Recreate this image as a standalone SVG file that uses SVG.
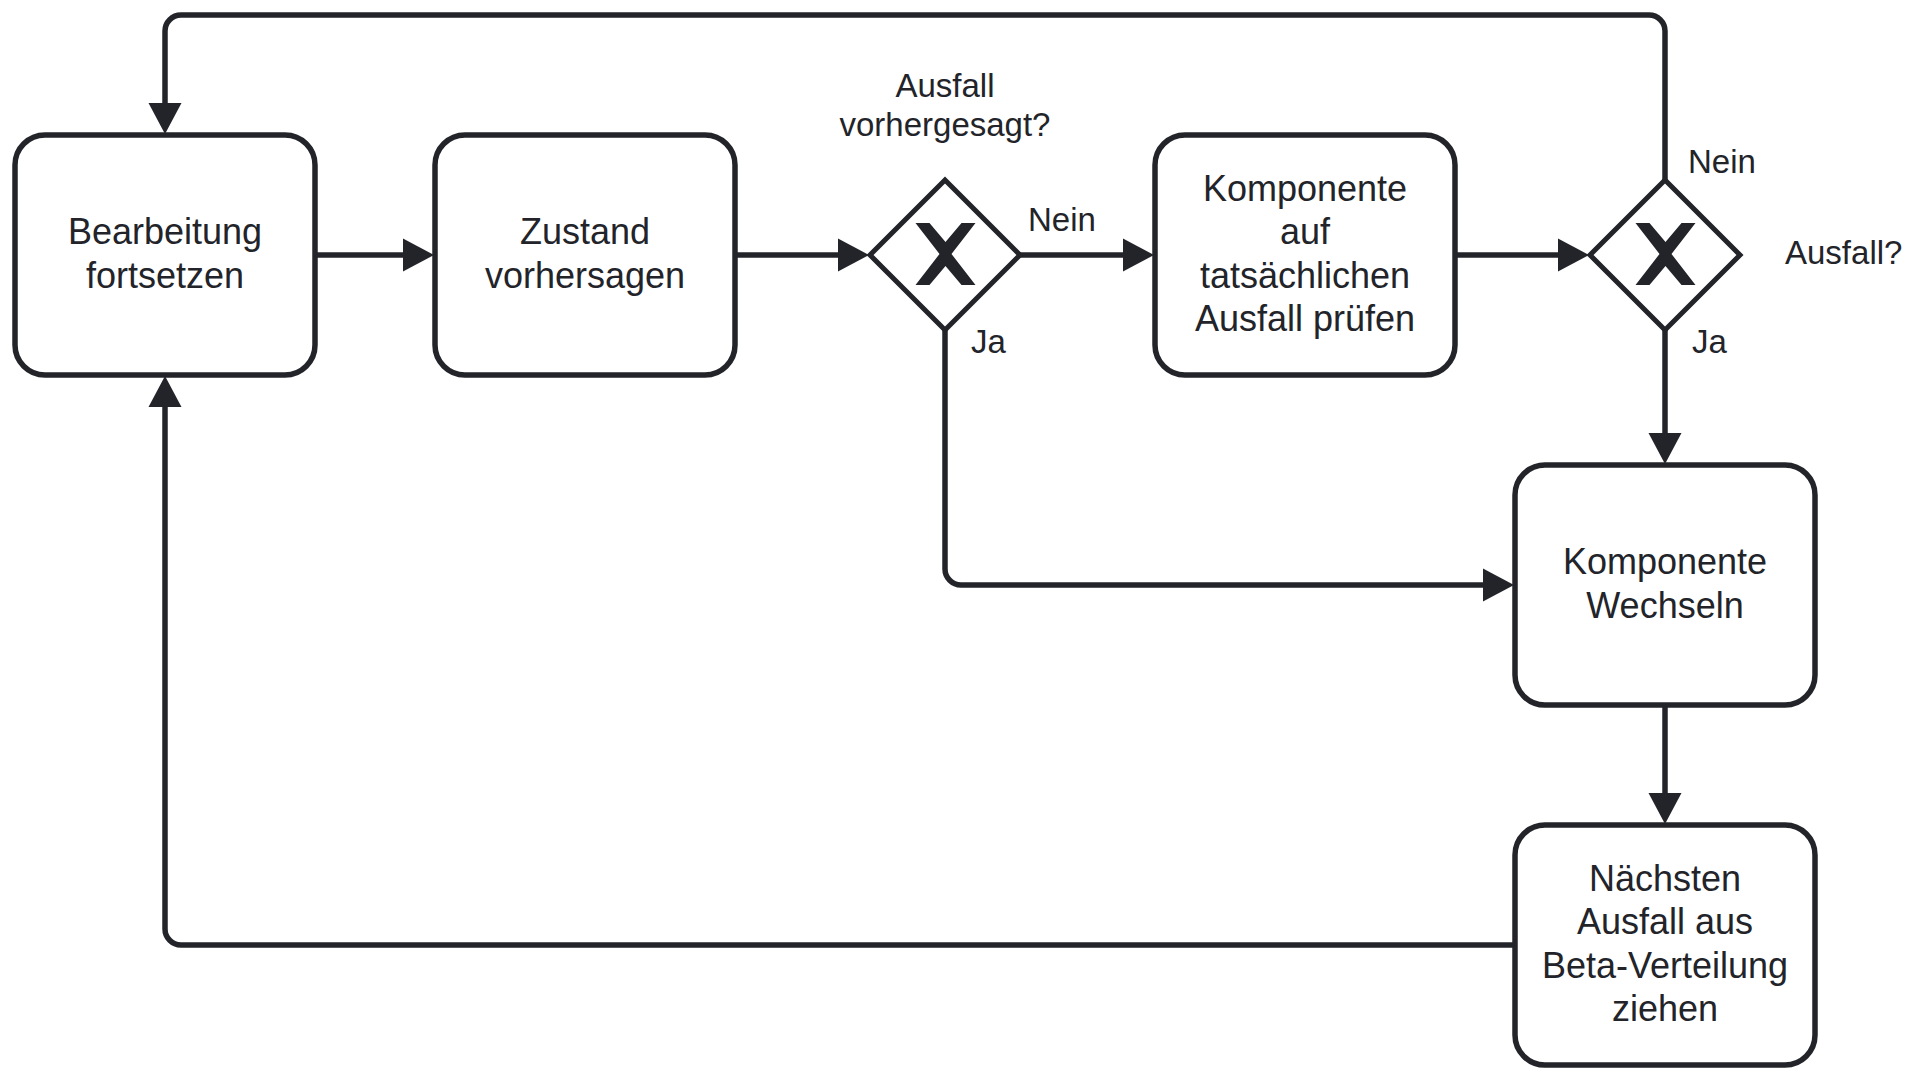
<svg xmlns="http://www.w3.org/2000/svg" width="1920" height="1080" viewBox="0 0 1920 1080">
  <style>
    .task { fill: #ffffff; stroke: #22242a; stroke-width: 5.5; }
    .gw { fill: #ffffff; stroke: #22242a; stroke-width: 5; stroke-linejoin: miter; }
    .xmark { fill: #22242a; }
    .conn { fill: none; stroke: #22242a; stroke-width: 5.5; marker-end: url(#arrow); }
    .conn-plain { fill: none; stroke: #22242a; stroke-width: 5.5; }
    .t { font-family: "Liberation Sans", Arial, Helvetica, sans-serif; font-size: 36px; fill: #22242a; text-anchor: middle; }
    .lbl { font-family: "Liberation Sans", Arial, Helvetica, sans-serif; font-size: 33px; fill: #22242a; }
  </style>
  <defs>
    <marker id="arrow" viewBox="0 0 32 34" refX="13" refY="17" markerWidth="32" markerHeight="34" markerUnits="userSpaceOnUse" orient="auto">
      <path d="M0,0.5 L31,17 L0,33.5 Z" fill="#22242a"/>
    </marker>
    <path id="xshape" d="M-30,-31 L-16,-31 L0,-12 L16,-31 L30,-31 L6,0 L30,31 L16,31 L0,12 L-16,31 L-30,31 L-6,0 Z"/>
  </defs>
  <rect width="1920" height="1080" fill="#ffffff"/>

  <g id="connectors">
    <path id="c1" class="conn" d="M315,255 H416"/>
    <path id="c2" class="conn" d="M735,255 H851"/>
    <path id="c3" class="conn" d="M1020,255 H1136"/>
    <path id="c4" class="conn" d="M1455,255 H1571"/>
    <path id="c5" class="conn" d="M1665,180 V31 A16,16 0 0 0 1649,15 H181 A16,16 0 0 0 165,31 V116"/>
    <path id="c6" class="conn" d="M1665,330 V446"/>
    <path id="c7" class="conn" d="M945,330 V569 A16,16 0 0 0 961,585 H1496"/>
    <path id="c8" class="conn" d="M1665,705 V806"/>
    <path id="c9" class="conn" d="M1515,945 H181 A16,16 0 0 1 165,929 V394"/>
    <text class="lbl" x="1028" y="231">Nein</text>
    <text class="lbl" x="971" y="353">Ja</text>
    <text class="lbl" x="1688" y="173">Nein</text>
    <text class="lbl" x="1692" y="353">Ja</text>
  </g>

  <g id="task1">
    <rect class="task" x="15" y="135" width="300" height="240" rx="30" ry="30"/>
    <text class="t" x="165" y="244.4">Bearbeitung</text>
    <text class="t" x="165" y="287.6">fortsetzen</text>
  </g>

  <g id="task2">
    <rect class="task" x="435" y="135" width="300" height="240" rx="30" ry="30"/>
    <text class="t" x="585" y="244.4">Zustand</text>
    <text class="t" x="585" y="287.6">vorhersagen</text>
  </g>

  <g id="gateway1">
    <polygon class="gw" points="945,180 1020,255 945,330 870,255"/>
    <use href="#xshape" class="xmark" transform="translate(945.5,254)"/>
    <text class="lbl" x="945" y="97" text-anchor="middle">Ausfall</text>
    <text class="lbl" x="945" y="136" text-anchor="middle">vorhergesagt?</text>
  </g>

  <g id="task3">
    <rect class="task" x="1155" y="135" width="300" height="240" rx="30" ry="30"/>
    <text class="t" x="1305" y="201.2">Komponente</text>
    <text class="t" x="1305" y="244.4">auf</text>
    <text class="t" x="1305" y="287.6">tatsächlichen</text>
    <text class="t" x="1305" y="330.8">Ausfall prüfen</text>
  </g>

  <g id="gateway2">
    <polygon class="gw" points="1665,180 1740,255 1665,330 1590,255"/>
    <use href="#xshape" class="xmark" transform="translate(1665.5,254)"/>
    <text class="lbl" x="1785" y="264">Ausfall?</text>
  </g>

  <g id="task4">
    <rect class="task" x="1515" y="465" width="300" height="240" rx="30" ry="30"/>
    <text class="t" x="1665" y="574.4">Komponente</text>
    <text class="t" x="1665" y="617.6">Wechseln</text>
  </g>

  <g id="task5">
    <rect class="task" x="1515" y="825" width="300" height="240" rx="30" ry="30"/>
    <text class="t" x="1665" y="891.2">Nächsten</text>
    <text class="t" x="1665" y="934.4">Ausfall aus</text>
    <text class="t" x="1665" y="977.6">Beta-Verteilung</text>
    <text class="t" x="1665" y="1020.8">ziehen</text>
  </g>
</svg>
